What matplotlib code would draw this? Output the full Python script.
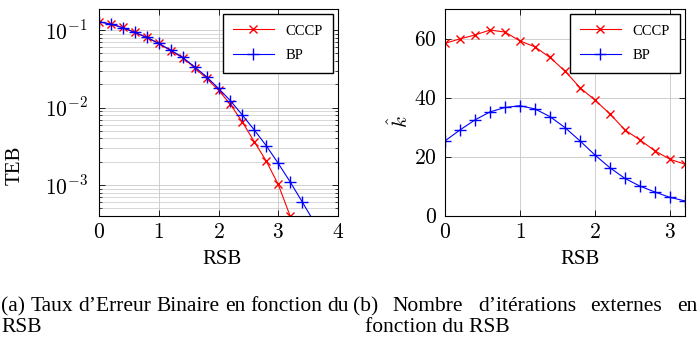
import numpy as np
import matplotlib.pyplot as plt
from matplotlib.ticker import FuncFormatter, LogLocator, NullFormatter

plt.rcParams['font.family'] = ['Liberation Serif', 'DejaVu Serif']
plt.rcParams['mathtext.fontset'] = 'cm'

# --- data ---
snr_cccp = [0.0, 0.2, 0.4, 0.6, 0.8, 1.0, 1.2, 1.4, 1.6, 1.8, 2.0, 2.2, 2.4, 2.6, 2.8, 3.0, 3.2]
teb_cccp = [0.128, 0.1195, 0.108, 0.0933, 0.0804, 0.0673, 0.0541, 0.0440, 0.0327, 0.0238,
            0.0168, 0.0110, 0.0065, 0.00362, 0.00204, 0.00102, 0.000398]
snr_bp = [0.0, 0.2, 0.4, 0.6, 0.8, 1.0, 1.2, 1.4, 1.6, 1.8, 2.0, 2.2, 2.4, 2.6, 2.8, 3.0, 3.2, 3.4, 3.6]
teb_bp = [0.128, 0.1195, 0.107, 0.0933, 0.0804, 0.0673, 0.0552, 0.0444, 0.0336, 0.0250,
          0.0177, 0.01225, 0.0080, 0.00513, 0.00322, 0.00191, 0.00110, 0.00061, 0.000335]

snr_k = [0.0, 0.2, 0.4, 0.6, 0.8, 1.0, 1.2, 1.4, 1.6, 1.8, 2.0, 2.2, 2.4, 2.6, 2.8, 3.0, 3.2]
k_cccp = [58.4, 59.9, 61.2, 62.9, 62.2, 59.2, 57.2, 53.6, 49.0, 43.4, 39.2, 34.5, 29.1, 25.7, 22.0, 19.2, 17.5]
k_bp = [25.4, 29.1, 32.5, 35.2, 36.7, 37.3, 36.2, 33.6, 29.9, 25.4, 20.6, 16.3, 12.7, 10.1, 8.1, 6.3, 5.1]

cap_a = ["(a)", "Taux", "d\u2019Erreur", "Binaire", "en", "fonction", "du"]
cap_b = ["(b)", "Nombre", "d\u2019itérations", "externes", "en"]

W, H = 698, 339
fig = plt.figure(figsize=(W / 100, H / 100), dpi=100)


def px_axes(x0, y0, x1, y1):
    return fig.add_axes([x0 / W, 1 - y1 / H, (x1 - x0) / W, (y1 - y0) / H])


def style(ax):
    ax.tick_params(which='both', direction='in', top=True, right=True, labelsize=15.5)
    ax.tick_params(which='major', length=4, width=0.6)
    ax.tick_params(which='minor', length=2, width=0.5)
    ax.tick_params(axis='x', pad=6)
    ax.tick_params(axis='y', pad=8)
    for s in ax.spines.values():
        s.set_linewidth(0.8)
    ax.set_axisbelow(True)


math_fmt = FuncFormatter(lambda v, p: f'${v:g}$')
leg_kw = dict(loc='upper right', fancybox=False, edgecolor='black', framealpha=1,
              fontsize=10.5, handlelength=2.8, borderpad=0.7, labelspacing=0.8,
              borderaxespad=0.35)

# (a) bit error rate
ax1 = px_axes(99, 9, 338, 216)
ax1.semilogy(snr_cccp, teb_cccp, color='red', marker='x', ms=6, lw=0.8, label='CCCP')
ax1.semilogy(snr_bp, teb_bp, color='blue', marker='+', ms=8, lw=0.8, label='BP')
ax1.set_xlim(0, 4)
ax1.set_ylim(4e-4, 0.187)
ax1.set_xticks([0, 1, 2, 3, 4])
ax1.xaxis.set_major_formatter(math_fmt)
ax1.yaxis.set_major_locator(LogLocator(base=10, numticks=10))
ax1.yaxis.set_minor_locator(LogLocator(base=10, subs=np.arange(2, 10), numticks=10))
ax1.yaxis.set_minor_formatter(NullFormatter())
ax1.yaxis.set_major_formatter(FuncFormatter(lambda v, p: f'$10^{{{int(round(np.log10(v)))}}}$'))
ax1.grid(which='major', color='#c8c8c8', lw=0.6)
ax1.grid(which='minor', axis='y', color='#c8c8c8', lw=0.5)
style(ax1)
ax1.set_xlabel('RSB', fontsize=15)
ax1.set_ylabel('TEB', fontsize=15)
ax1.xaxis.set_label_coords((222 - 99) / 239, -(250 - 216) / 207)
ax1.yaxis.set_label_coords(-(99 - 25) / 239, (216 - 165) / 207)
ax1.legend(**leg_kw)

# (b) outer iterations
ax2 = px_axes(445, 9, 685, 216)
ax2.plot(snr_k, k_cccp, color='red', marker='x', ms=6, lw=0.8, label='CCCP')
ax2.plot(snr_k, k_bp, color='blue', marker='+', ms=8, lw=0.8, label='BP')
ax2.set_xlim(0, 3.2)
ax2.set_ylim(0, 70)
ax2.set_xticks([0, 1, 2, 3])
ax2.set_yticks([0, 20, 40, 60])
ax2.xaxis.set_major_formatter(math_fmt)
ax2.yaxis.set_major_formatter(math_fmt)
ax2.grid(which='major', color='#c8c8c8', lw=0.6)
style(ax2)
ax2.tick_params(axis='y', pad=6)
ax2.set_xlabel('RSB', fontsize=15)
ax2.set_ylabel(r'$\hat{k}$', fontsize=15)
ax2.xaxis.set_label_coords((580 - 445) / 240, -(250 - 216) / 207)
ax2.yaxis.set_label_coords(-(445 - 413) / 240, (216 - 122) / 207)
ax2.legend(**leg_kw)

# sub-captions (first lines justified like the LaTeX output)
cap_size = 15.5
renderer = fig.canvas.get_renderer()


def justified(words, x0, x1, y):
    items = [fig.text(0, 1 - y / H, w, fontsize=cap_size, va='baseline', ha='left') for w in words]
    widths = [t.get_window_extent(renderer).width for t in items]
    gap = (x1 - x0 - sum(widths)) / (len(words) - 1)
    x = x0
    for t, w in zip(items, widths):
        t.set_x(x / W)
        x += w + gap


justified(cap_a, 1, 349, 311)
fig.text(1 / W, 1 - 332 / H, "RSB", fontsize=cap_size, va='baseline', ha='left')
justified(cap_b, 353, 697, 311)
fig.text(365 / W, 1 - 332 / H, "fonction du RSB", fontsize=cap_size, va='baseline', ha='left')

fig.savefig('out.png', dpi=100)
